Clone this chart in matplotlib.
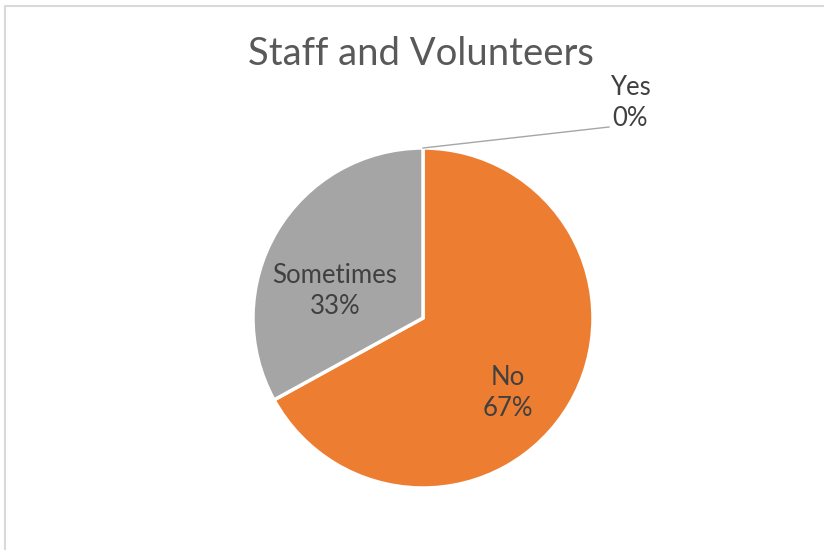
import matplotlib
matplotlib.use("Agg")
import matplotlib.pyplot as plt

plt.rcParams['font.family'] = ['Lato', 'DejaVu Sans']

# chart data
categories = ["Yes", "No", "Sometimes"]
values = [0, 67, 33]
colors = ["#4472C4", "#ED7D31", "#A5A5A5"]

fig = plt.figure(figsize=(8.24, 5.5), dpi=100)
ax = fig.add_axes([0, 0, 1, 1])

# pie in pixel coords (y up)
cx, cy, r = 423, 550 - 318, 170
wedges, _ = ax.pie(values, colors=colors, startangle=90, counterclock=False,
                   center=(cx, cy), radius=r,
                   wedgeprops=dict(edgecolor="white", linewidth=2.5))
ax.set_xlim(0, 824)
ax.set_ylim(0, 550)
ax.set_aspect("equal")
ax.axis("off")

# frame lines like the excel chart area
ax.plot([5, 5, 824], [0, 544, 544], color="#d9d9d9", lw=1.5)

ax.text(421, 550 - 54, "Staff and Volunteers", ha="center", va="center",
        fontsize=27.5, color="#595959")

lbl = dict(ha="center", va="center", fontsize=18.5, color="#404040", linespacing=1.3)
ax.text(508, 550 - 393, "%s\n%d%%" % (categories[1], values[1]), **lbl)
ax.text(335, 550 - 291, "%s\n%d%%" % (categories[2], values[2]), **lbl)
ax.text(630, 550 - 103, "%s\n%d%%" % (categories[0], values[0]), **lbl)

# leader line for the zero slice
ax.plot([cx, 609], [cy + r, 550 - 127], color="#a6a6a6", lw=1)

fig.savefig("out.png", dpi=100)
